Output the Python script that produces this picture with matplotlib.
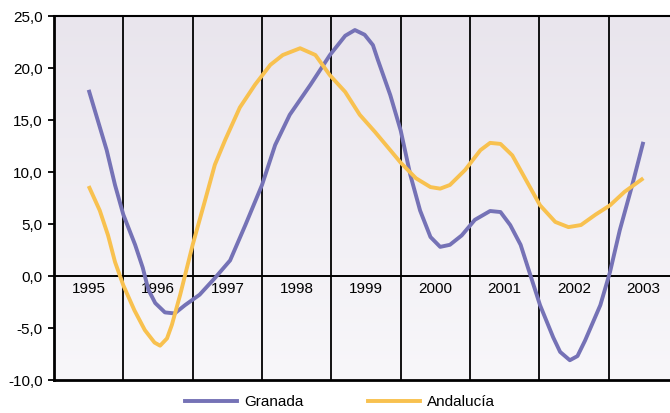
import numpy as np
import matplotlib
matplotlib.use('Agg')
import matplotlib.pyplot as plt
from matplotlib.lines import Line2D

plt.rcParams['font.family'] = ['Liberation Sans', 'DejaVu Sans']

# time in fractional years (1995.0 = left edge of the 1995 column)
years = [1995, 1996, 1997, 1998, 1999, 2000, 2001, 2002, 2003]

t_gra = [1995.5, 1995.76, 1995.88, 1996.0, 1996.17, 1996.28, 1996.36, 1996.46, 1996.6, 1996.74,
         1996.89, 1997.1, 1997.32, 1997.54, 1997.76, 1998.0, 1998.19, 1998.4, 1998.7, 1998.98,
         1999.2, 1999.34, 1999.48, 1999.6, 1999.67, 1999.85, 2000.0, 2000.14, 2000.28, 2000.43,
         2000.57, 2000.71, 2000.88, 2001.07, 2001.29, 2001.44, 2001.58, 2001.73, 2001.87, 2002.01,
         2002.2, 2002.3, 2002.44, 2002.55, 2002.66, 2002.88, 2003.02, 2003.16, 2003.34, 2003.5]
granada = [17.9, 12.1, 8.75, 5.9, 3.0, 0.8, -1.3, -2.6, -3.5, -3.6,
           -2.8, -1.8, -0.2, 1.5, 4.9, 8.75, 12.6, 15.5, 18.4, 21.25,
           23.1, 23.65, 23.2, 22.2, 20.8, 17.4, 14.0, 9.7, 6.3, 3.75,
           2.8, 3.0, 3.9, 5.4, 6.25, 6.15, 4.9, 3.0, 0.1, -2.8,
           -5.9, -7.3, -8.1, -7.7, -6.2, -2.8, 0.4, 4.4, 8.75, 12.9]

t_and = [1995.5, 1995.66, 1995.78, 1995.88, 1996.0, 1996.16, 1996.31, 1996.45, 1996.53, 1996.63,
         1996.7, 1996.82, 1997.0, 1997.18, 1997.32, 1997.47, 1997.68, 1997.9, 1998.12, 1998.3,
         1998.55, 1998.77, 1998.98, 1999.2, 1999.41, 1999.63, 1999.85, 2000.0, 2000.22, 2000.43,
         2000.57, 2000.71, 2000.93, 2001.15, 2001.29, 2001.44, 2001.61, 2001.81, 2002.01, 2002.23,
         2002.42, 2002.6, 2002.81, 2003.02, 2003.23, 2003.5]
andalucia = [8.65, 6.3, 3.9, 1.35, -0.9, -3.3, -5.2, -6.4, -6.7, -6.0,
             -4.7, -1.8, 3.0, 7.3, 10.7, 13.1, 16.2, 18.4, 20.3, 21.25,
             21.9, 21.25, 19.3, 17.7, 15.5, 13.85, 12.1, 10.9, 9.4, 8.55,
             8.4, 8.75, 10.2, 12.1, 12.8, 12.7, 11.6, 9.2, 6.8, 5.2,
             4.7, 4.9, 5.9, 6.8, 8.1, 9.4]

yticks = [-10, -5, 0, 5, 10, 15, 20, 25]

c_gra = '#7572B6'
c_and = '#F8C14F'

fig = plt.figure(figsize=(6.7, 4.13), dpi=100)
ax = fig.add_axes([54/670, 33/413, 624/670, 364/413])

# background gradient: lavender at top, near white at bottom
grad = np.linspace(0, 1, 256).reshape(-1, 1)
c_top = np.array([233, 229, 237]) / 255
c_bot = np.array([248, 247, 250]) / 255
img = c_top[None, None, :] * (1 - grad[..., None]) + c_bot[None, None, :] * grad[..., None]
ax.imshow(img, extent=[0, 1, 0, 1], transform=ax.transAxes, aspect='auto', zorder=0)

ax.set_xlim(1995, 2004)
ax.set_ylim(-10, 25)

for y in years[1:]:
    ax.axvline(y, color='black', lw=1.3, zorder=1)
ax.axhline(0, color='black', lw=1.4, zorder=1)

for y in years:
    ax.text(y + 0.5, -0.6, str(y), ha='center', va='top', fontsize=11, zorder=2)

ax.plot(t_gra, granada, color=c_gra, lw=2.8, zorder=3, solid_capstyle='butt')
ax.plot(t_and, andalucia, color=c_and, lw=2.8, zorder=3, solid_capstyle='butt')

ax.set_xticks([])
ax.set_yticks(yticks)
ax.set_yticklabels([('%.1f' % v).replace('.', ',') for v in yticks], fontsize=11)
ax.tick_params(axis='y', direction='out', length=4, width=1.3, pad=4)

ax.spines['left'].set_linewidth(2)
ax.spines['bottom'].set_linewidth(2)
ax.spines['top'].set_linewidth(1.5)
ax.spines['right'].set_visible(False)

handles = [Line2D([], [], color=c_gra, lw=2.8), Line2D([], [], color=c_and, lw=2.8)]
fig.legend(handles, ['Granada', 'Andalucía'], loc='center', bbox_to_anchor=(340/670, 1 - 402/413),
           ncol=2, frameon=False, fontsize=11, handlelength=3.4, columnspacing=4.2, handletextpad=0.5)

fig.savefig('out.png', dpi=100)
